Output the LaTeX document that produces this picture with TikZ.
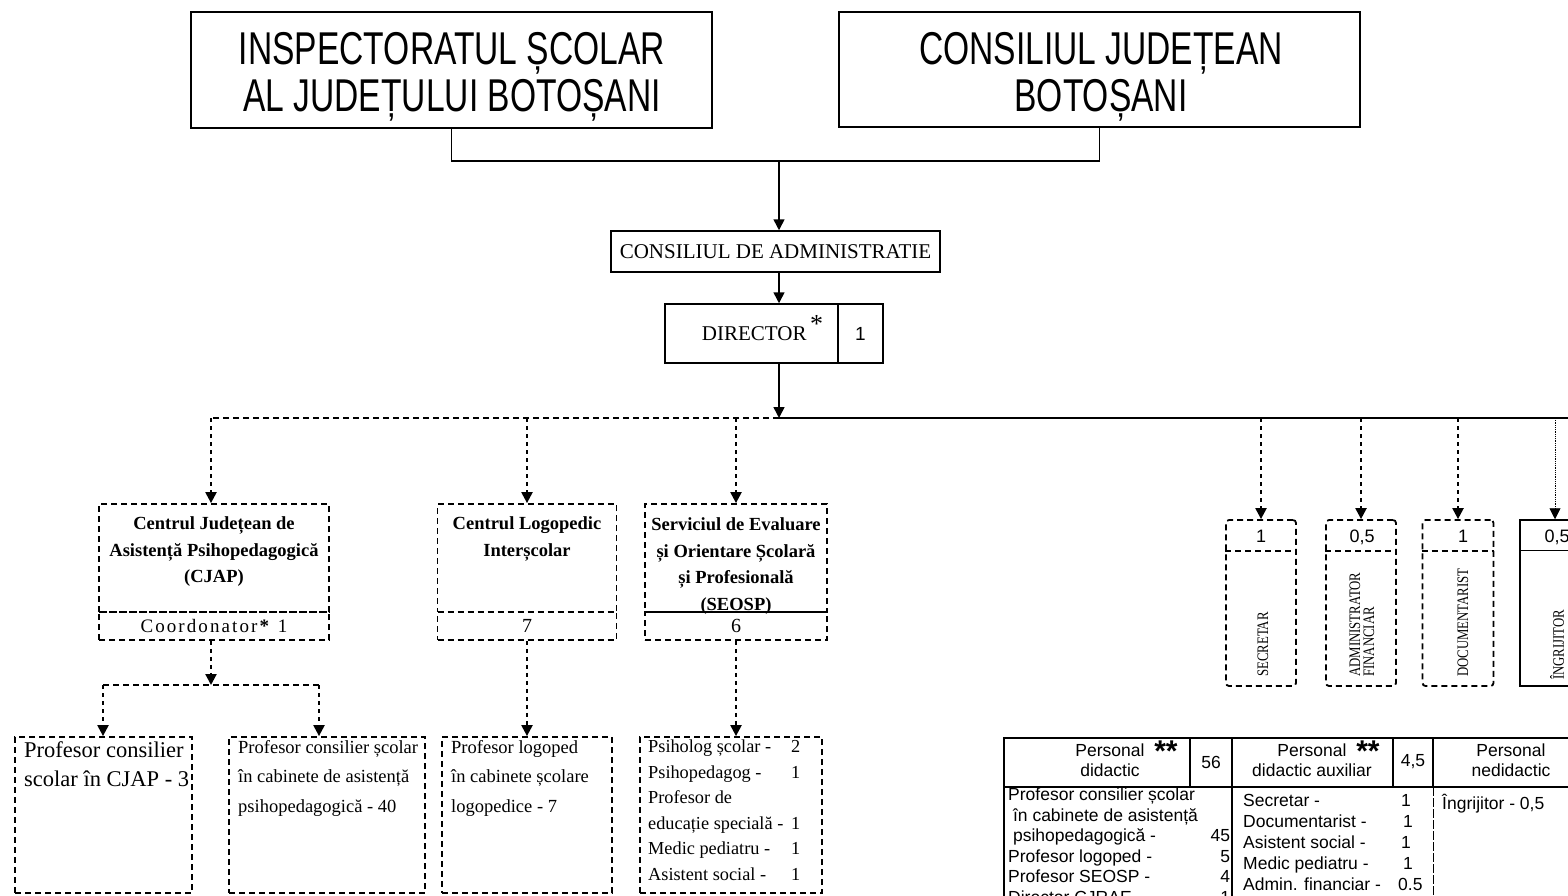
\documentclass[tikz,border=0pt]{standalone}
\usepackage{fontspec}
\setmainfont{Liberation Serif}
\setsansfont{Liberation Sans}
\newfontfamily\titlefont[FakeStretch=0.73]{Liberation Sans}
\newfontfamily\narrowserif[FakeStretch=0.8]{Liberation Serif}
\usetikzlibrary{arrows.meta}

\begin{document}
\begin{tikzpicture}[x=1pt, y=-1pt,
    box/.style={draw, line width=1.5pt, inner sep=0pt},
    dbox/.style={draw, line width=1.8pt, dash pattern=on 6pt off 4pt, inner sep=0pt},
    sbox/.style={dbox, rounded corners=3pt},
    link/.style={line width=1.5pt},
    arr/.style={link, -{Triangle[width=11pt,length=11pt]}},
    dlink/.style={line width=1.8pt, dash pattern=on 6pt off 4pt},
    darr/.style={line width=2.2pt, dash pattern=on 4pt off 4pt, -{Triangle[width=11pt,length=11pt]}},
    tarr/.style={line width=0.8pt, densely dotted, -{Triangle[width=11pt,length=11pt]}},
    tline/.style={line width=1.4pt},
    title/.style={align=center, inner sep=0pt, font=\titlefont\fontsize{46}{47}\selectfont},
    head/.style={align=center, inner sep=0pt, font=\bfseries\fontsize{18.5}{26.5}\selectfont},
    body/.style={anchor=north west, inner sep=0pt, align=left, font=\fontsize{18.5}{29.5}\selectfont},
    vtext/.style={rotate=90, anchor=west, inner sep=0pt, align=left, font=\narrowserif\fontsize{16}{14}\selectfont},
    num/.style={font=\sffamily\fontsize{18}{20}\selectfont},
    cell/.style={inner sep=0pt, font=\sffamily\fontsize{17.5}{20.5}\selectfont},
  ]
  \useasboundingbox (0,0) rectangle (1568,895);
  \clip (0,0) rectangle (1568,895);

  % top level
  \draw (451.5,70) node[box, minimum width=521, minimum height=116] (isj) {};
  \draw (452,76.5) node[title] (isjt) {INSPECTORATUL ȘCOLAR\\AL JUDEȚULUI BOTOȘANI};
  \draw (1099.5,69.5) node[box, minimum width=521, minimum height=115] (cj) {};
  \draw (1101,76.5) node[title] (cjt) {CONSILIUL JUDEȚEAN\\BOTOȘANI};

  \draw (775.5,251.5) node[box, minimum width=329, minimum height=41, font=\fontsize{21}{24}\selectfont] (ca) {CONSILIUL DE ADMINISTRATIE};
  \draw (751.5,333.5) node[box, minimum width=173, minimum height=59, text height=14pt, text depth=0pt, font=\fontsize{21}{24}\selectfont] (dir) {\hspace*{22pt}DIRECTOR\,\raisebox{8pt}{\fontsize{26}{26}\selectfont *}};
  \draw (860.5,333.5) node[box, minimum width=45, minimum height=59, font=\sffamily\fontsize{19}{20}\selectfont] (dirn) {1};

  \coordinate (join) at (779,160);
  \coordinate (bus) at (779,418);
  \coordinate (busl) at (211,418);
  \coordinate (busr) at (1568,418);

  \draw[link] (isj.south) -- ++(0,32) -| (cj.south);
  \draw[arr] (join) -- (ca.north -| join);
  \draw[arr] (ca.south -| join) -- (dir.north -| join);
  \draw[arr] (dir.south -| bus) -- (bus);
  \draw[link] (bus) -- (busr);
  \draw[dlink] (bus) -- (busl);

  % centres
  \draw (214,558) node[dbox, minimum width=230, minimum height=108] (cjap) {};
  \draw (214,552) node[head] (cjapt) {Centrul Județean de\\Asistență Psihopedagogică\\(CJAP)};
  \draw (214,626) node[dbox, minimum width=230, minimum height=28, font=\fontsize{19}{20}\selectfont\addfontfeature{LetterSpace=11}] (cjapc) {Coordonator\textbf{*} 1};

  \draw (527,558) node[dbox, minimum width=179, minimum height=108] (log) {};
  \draw (527,539) node[head] (logt) {Centrul Logopedic\\Interșcolar};
  \draw (527,626) node[dbox, minimum width=179, minimum height=28, font=\fontsize{20}{20}\selectfont] (logc) {7};

  \draw (736,558) node[dbox, minimum width=182, minimum height=108] (seosp) {};
  \draw (736,566) node[head] (seospt) {Serviciul de Evaluare\\și Orientare Școlară\\și Profesională\\(SEOSP)};
  \draw (736,626) node[dbox, minimum width=182, minimum height=28, font=\fontsize{20}{20}\selectfont] (seospc) {6};

  \draw[darr] (busl) -- (cjap.north -| busl);
  \draw[darr] (bus -| log.north) -- (log.north);
  \draw[darr] (bus -| seosp.north) -- (seosp.north);

  % staff boxes
  \draw (103.5,815) node[dbox, minimum width=177, minimum height=156] (prof1) {};
  \draw (24,741) node[body, font=\fontsize{22.5}{29}\selectfont] (prof1t) {Profesor consilier\\scolar în CJAP - 3};
  \draw (327,815) node[dbox, minimum width=196, minimum height=156] (prof2) {};
  \draw (238,740) node[body] (prof2t) {Profesor consilier școlar\\în cabinete de asistență\\psihopedagogică - 40};
  \draw (527,815) node[dbox, minimum width=170, minimum height=156] (prof3) {};
  \draw (451,740) node[body] (prof3t) {Profesor logoped\\în cabinete școlare\\logopedice - 7};
  \draw (731,815) node[dbox, minimum width=182, minimum height=156] (prof4) {};
  \draw (648,740) node[body, font=\fontsize{18.3}{25.5}\selectfont] (prof4t) {\makebox[143pt][l]{Psiholog școlar -}2\\
    \makebox[143pt][l]{Psihopedagog -}1\\
    Profesor de\\
    \makebox[143pt][l]{educație specială -}1\\
    \makebox[143pt][l]{Medic pediatru -}1\\
    \makebox[143pt][l]{Asistent social -}1};

  \coordinate (split) at (211,685);
  \coordinate (splitl) at (103,685);
  \coordinate (splitr) at (319,685);
  \draw[darr] (cjapc.south -| split) -- (split);
  \draw[dlink] (splitl) -- (splitr);
  \draw[darr] (splitl) -- (prof1.north -| splitl);
  \draw[darr] (splitr) -- (prof2.north -| splitr);
  \draw[darr] (logc.south) -- (prof3.north);
  \draw[darr] (seospc.south) -- (seospc.south |- prof4.north);

  % auxiliary staff
  \draw (1261,603) node[sbox, minimum width=70, minimum height=166] (sec) {};
  \draw (1261,536) node[num] (secn) {1};
  \draw[dlink] ([yshift=-32pt]sec.north west) -- ([yshift=-32pt]sec.north east);
  \draw (1263,677) node[vtext] (sect) {SECRETAR};

  \draw (1361,603) node[sbox, minimum width=70, minimum height=166] (adm) {};
  \draw (1362,537) node[num] (admn) {0,5};
  \draw[dlink] ([yshift=-32pt]adm.north west) -- ([yshift=-32pt]adm.north east);
  \draw (1362,677) node[vtext] (admt) {ADMINISTRATOR\\FINANCIAR};

  \draw (1458,603) node[sbox, minimum width=71, minimum height=166] (doc) {};
  \draw (1463,536) node[num] (docn) {1};
  \draw[dlink] ([yshift=-32pt]doc.north west) -- ([yshift=-32pt]doc.north east);
  \draw (1463,677) node[vtext] (doct) {DOCUMENTARIST};

  \draw (1555,603) node[box, minimum width=70, minimum height=166] (ingr) {};
  \draw (1557,537) node[num] (ingrn) {0,5};
  \draw[line width=0.8pt] ([yshift=-31pt]ingr.north west) -- ([yshift=-31pt]ingr.north east);
  \draw (1557,680) node[vtext] (ingrt) {ÎNGRIJITOR};

  \draw[darr] (busr -| sec.north) -- (sec.north);
  \draw[darr] (busr -| adm.north) -- (adm.north);
  \draw[darr] (busr -| doc.north) -- (doc.north);
  \draw[tarr] (busr -| ingr.north) -- (ingr.north);

  % staff table
  \draw[tline] (1004,900) -- (1004,738) -- (1570,738);
  \draw[tline] (1004,787) -- (1570,787);
  \draw[tline] (1190,738) -- (1190,787);
  \draw[tline] (1232,738) -- (1232,900);
  \draw[tline] (1393,738) -- (1393,787);
  \draw[tline] (1433,738) -- (1433,787);
  \draw[line width=1pt, dash pattern=on 9pt off 2pt] (1433,787) -- (1433,900);

  \draw (1110,760) node[cell, align=center] (h1) {Personal\rlap{\ \ \raisebox{-5pt}[0pt][0pt]{\bfseries\fontsize{30}{30}\selectfont **}}\\didactic};
  \draw (1211,762) node[cell] (h2) {56};
  \draw (1312,760) node[cell, align=center] (h3) {Personal\rlap{\ \ \raisebox{-5pt}[0pt][0pt]{\bfseries\fontsize{30}{30}\selectfont **}}\\didactic auxiliar};
  \draw (1413,762) node[cell] (h4) {4,5};
  \draw (1511,760) node[cell, align=center] (h5) {Personal\\nedidactic};

  \draw (1008,788) node[cell, anchor=north west, align=left] (b1) {Profesor consilier școlar\\
    \ în cabinete de asistență\\
    \makebox[222pt]{\ psihopedagogică -\hfill 45}\\
    \makebox[222pt]{Profesor logoped -\hfill 5}\\
    \makebox[222pt]{Profesor SEOSP -\hfill 4}\\
    \makebox[222pt]{Director CJRAE -\hfill 1}};
  \draw (1243,794) node[cell, anchor=north west, align=left, font=\sffamily\fontsize{17.5}{21}\selectfont] (b2) {\makebox[158pt][l]{Secretar -}1\\
    \makebox[160pt][l]{Documentarist -}1\\
    \makebox[158pt][l]{Asistent social -}1\\
    \makebox[160pt][l]{Medic pediatru -}1\\
    \makebox[155pt][l]{Admin. financiar -}0.5};
  \draw (1442,794) node[cell, anchor=north west] (b3) {Îngrijitor - 0,5};
\end{tikzpicture}
\end{document}
